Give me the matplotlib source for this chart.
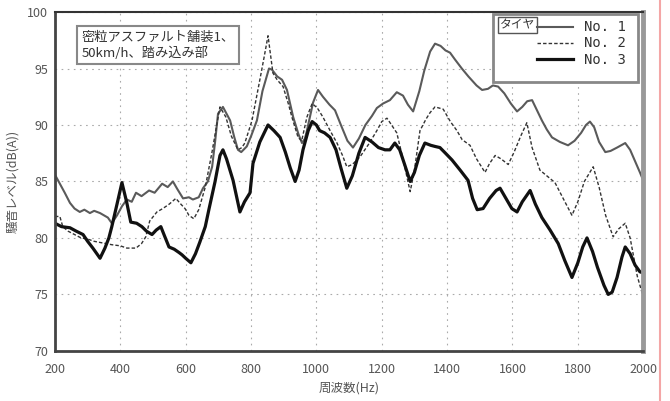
import matplotlib
matplotlib.use("Agg")
import matplotlib.pyplot as plt
from matplotlib.patches import Rectangle
from matplotlib.lines import Line2D

plt.rcParams['font.family'] = ['Noto Sans CJK JP', 'DejaVu Sans']

# tyre No.1 (solid grey)
freq1 = [200, 215, 230, 246, 260, 276, 290, 307, 320, 338, 362, 374, 390, 405, 420, 435,
         448, 465, 488, 505, 528, 545, 561, 575, 592, 610, 622, 640, 653, 668, 681, 690,
         699, 714, 725, 736, 748, 760, 770, 787, 800, 818, 835, 855, 864, 880, 895, 910,
         929, 945, 956, 965, 971, 990, 1005, 1020, 1040, 1057, 1075, 1095, 1112, 1130,
         1150, 1170, 1185, 1204, 1225, 1246, 1265, 1280, 1296, 1315, 1330, 1348, 1363,
         1380, 1395, 1409, 1424, 1445, 1465, 1490, 1507, 1525, 1540, 1556, 1575, 1595,
         1614, 1630, 1645, 1660, 1675, 1690, 1705, 1721, 1745, 1770, 1790, 1810, 1825,
         1837, 1850, 1865, 1884, 1900, 1920, 1945, 1960, 1975, 1990, 2000]
level1 = [85.6, 84.8, 84.0, 83.1, 82.6, 82.3, 82.5, 82.2, 82.4, 82.2, 81.8, 81.3, 82.0, 82.8,
          83.4, 83.2, 84.0, 83.7, 84.2, 84.0, 84.8, 84.5, 85.0, 84.3, 83.5, 83.6, 83.4, 83.6,
          84.4, 85.0, 86.3, 88.5, 91.0, 91.6, 91.0, 90.4, 89.0, 87.8, 87.6, 88.1, 89.0, 90.4,
          93.0, 95.0, 94.9, 94.3, 94.0, 93.1, 90.7, 89.2, 88.4, 88.8, 89.5, 92.0, 93.1, 92.5,
          91.8, 91.3, 90.0, 88.6, 88.0, 88.8, 90.0, 90.8, 91.5, 91.9, 92.2, 92.9, 92.6, 91.8,
          91.2, 93.0, 94.8, 96.5, 97.2, 97.0, 96.6, 96.4, 95.8, 95.0, 94.3, 93.5, 93.1, 93.2,
          93.5, 93.4, 92.8, 91.9, 91.2, 91.6, 92.1, 92.2, 91.3, 90.4, 89.6, 88.9, 88.5, 88.2,
          88.6, 89.3, 90.0, 90.3, 89.8, 88.5, 87.6, 87.7, 88.0, 88.4, 87.8, 86.8, 85.8, 85.1]

# tyre No.2 (dashed)
freq2 = [200, 215, 224, 240, 260, 280, 300, 320, 338, 356, 374, 400, 420, 448, 465, 478,
         490, 512, 530, 550, 570, 585, 598, 610, 625, 640, 660, 680, 695, 705, 723, 740,
         760, 772, 781, 803, 827, 840, 852, 867, 880, 898, 915, 925, 944, 955, 971, 987,
         1003, 1020, 1042, 1063, 1080, 1093, 1110, 1134, 1160, 1185, 1200, 1216, 1230,
         1246, 1265, 1280, 1287, 1300, 1317, 1335, 1348, 1363, 1388, 1410, 1430, 1446,
         1470, 1490, 1516, 1530, 1547, 1565, 1587, 1605, 1625, 1644, 1660, 1684, 1705,
         1730, 1755, 1782, 1800, 1820, 1847, 1865, 1885, 1908, 1925, 1945, 1960, 1982, 2000]
level2 = [81.9, 81.9, 81.0, 80.6, 80.3, 80.0, 79.9, 79.7, 79.6, 79.5, 79.4, 79.3, 79.1, 79.1,
          79.5, 80.1, 81.5, 82.3, 82.6, 83.0, 83.5, 83.0, 82.6, 82.0, 81.7, 82.5, 84.5, 87.5,
          90.0, 91.6, 90.7, 89.0, 87.8, 88.0, 88.4, 90.4, 94.0, 96.0, 97.9, 94.6, 94.0, 93.4,
          91.8, 90.7, 88.9, 88.6, 90.7, 91.9, 91.5, 90.7, 89.5, 88.4, 87.3, 86.3, 86.5, 87.2,
          88.3, 89.5, 90.3, 90.6, 90.0, 89.3, 87.0, 85.0, 84.1, 86.0, 89.5, 90.5, 91.1, 91.6,
          91.4, 90.3, 89.5, 88.7, 88.2, 87.0, 85.8, 86.6, 87.3, 87.0, 86.5, 87.6, 89.0, 90.2,
          88.0, 86.0, 85.5, 84.9, 83.5, 82.0, 83.2, 85.0, 86.3, 84.5, 82.0, 80.1, 80.8, 81.3,
          80.0, 76.6, 74.8]

# tyre No.3 (thick black)
freq3 = [200, 220, 246, 265, 286, 300, 316, 338, 353, 365, 374, 390, 405, 420, 432, 450,
         466, 480, 497, 510, 524, 535, 549, 565, 580, 589, 600, 616, 630, 643, 660, 671,
         690, 705, 714, 725, 745, 757, 766, 780, 797, 806, 827, 852, 870, 889, 905, 920,
         935, 947, 959, 975, 987, 1000, 1010, 1025, 1042, 1060, 1075, 1093, 1110, 1130,
         1149, 1170, 1190, 1210, 1225, 1240, 1255, 1270, 1287, 1300, 1315, 1332, 1350,
         1363, 1378, 1395, 1415, 1440, 1464, 1478, 1492, 1510, 1530, 1550, 1562, 1580,
         1598, 1614, 1630, 1654, 1670, 1690, 1715, 1740, 1760, 1782, 1800, 1815, 1828,
         1845, 1860, 1880, 1893, 1905, 1920, 1935, 1945, 1960, 1975, 1990, 2000]
level3 = [81.3, 81.0, 80.9, 80.6, 80.3, 79.7, 79.1, 78.2, 79.1, 80.0, 81.0, 83.0, 84.9, 83.1,
          81.4, 81.3, 81.0, 80.6, 80.3, 80.7, 81.0, 80.2, 79.2, 79.0, 78.7, 78.5, 78.2, 77.8,
          78.6, 79.6, 81.0, 82.5, 85.0, 87.3, 87.8, 87.0, 85.1, 83.5, 82.3, 83.2, 84.0, 86.6,
          88.5, 90.0, 89.5, 88.9, 87.6, 86.2, 85.0, 86.0, 87.8, 89.5, 90.3, 90.0, 89.5, 89.3,
          88.9, 87.8, 86.2, 84.4, 85.5, 87.5, 88.9, 88.5, 88.0, 87.8, 87.8, 88.4, 87.8, 86.5,
          85.0, 85.8, 87.3, 88.4, 88.2, 88.1, 88.0, 87.5, 86.9, 86.0, 85.1, 83.5, 82.5, 82.6,
          83.5, 84.2, 84.4, 83.5, 82.6, 82.3, 83.2, 84.2, 83.0, 81.8, 80.7, 79.5, 78.0, 76.5,
          77.8, 79.2, 80.0, 78.8, 77.4, 75.8, 75.0, 75.2, 76.5, 78.3, 79.2, 78.6, 77.6, 77.0,
          76.9]

x_ticks = [200, 400, 600, 800, 1000, 1200, 1400, 1600, 1800, 2000]
y_ticks = [70, 75, 80, 85, 90, 95, 100]
series_labels = ["No. 1", "No. 2", "No. 3"]

fig = plt.figure(figsize=(6.7, 4.01), dpi=100)
ax = fig.add_axes([0.082, 0.125, 0.878, 0.845])

ax.plot(freq1, level1, color="#5a5a5a", lw=1.5, label=series_labels[0])
ax.plot(freq2, level2, color="#333333", lw=1.0, ls=(0, (2.5, 1.5)), label=series_labels[1])
ax.plot(freq3, level3, color="#111111", lw=2.3, label=series_labels[2])

ax.set_xlim(200, 2000)
ax.set_ylim(70, 100)
ax.set_xticks(x_ticks)
ax.set_yticks(y_ticks)
ax.tick_params(axis="x", length=0, labelsize=9, colors="#555555", pad=9)
ax.tick_params(axis="y", length=0, labelsize=9, colors="#555555", pad=5)
ax.grid(True, ls=(0, (1.5, 4)), color="#aaaaaa", lw=0.8)

for side in ["left", "bottom"]:
    ax.spines[side].set_linewidth(2.0)
    ax.spines[side].set_color("#444444")
ax.spines["top"].set_linewidth(1.5)
ax.spines["top"].set_color("#333333")
ax.spines["right"].set_linewidth(3.5)
ax.spines["right"].set_color("#999999")

ax.set_xlabel("周波数(Hz)", fontsize=9, color="#555555", labelpad=4)
ax.set_ylabel("騒音レベル(dB(A))", fontsize=9, color="#555555", labelpad=6)

ax.text(0.045, 0.945, "密粒アスファルト舗装1、\n50km/h、踏み込み部", transform=ax.transAxes,
        fontsize=9.5, va="top", ha="left", color="#333333", linespacing=1.25,
        bbox=dict(boxstyle="square,pad=0.35", fc="white", ec="#888888", lw=1.5))

# legend frame
ax.add_patch(Rectangle((0.745, 0.794), 0.246, 0.2, transform=ax.transAxes,
                       fc="white", ec="#888888", lw=2, zorder=4))
ax.text(0.786, 0.962, "タイヤ", transform=ax.transAxes, fontsize=8.5, ha="center",
        va="center", color="#333333", zorder=5,
        bbox=dict(boxstyle="square,pad=0.15", fc="white", ec="#555555", lw=1))
leg = ax.legend(loc="upper right", bbox_to_anchor=(0.985, 1.0), frameon=False,
                handlelength=2.6, labelspacing=0.15, fontsize=10, borderaxespad=0.2)
leg.set_zorder(6)
for t in leg.get_texts():
    t.set_family("DejaVu Sans Mono")
    t.set_color("#333333")

# pink edge line from the scanned page
fig.add_artist(Line2D([0.985, 0.985], [0, 1], color="#f4a6a6", lw=1.5))

fig.savefig("out.png", dpi=100)
